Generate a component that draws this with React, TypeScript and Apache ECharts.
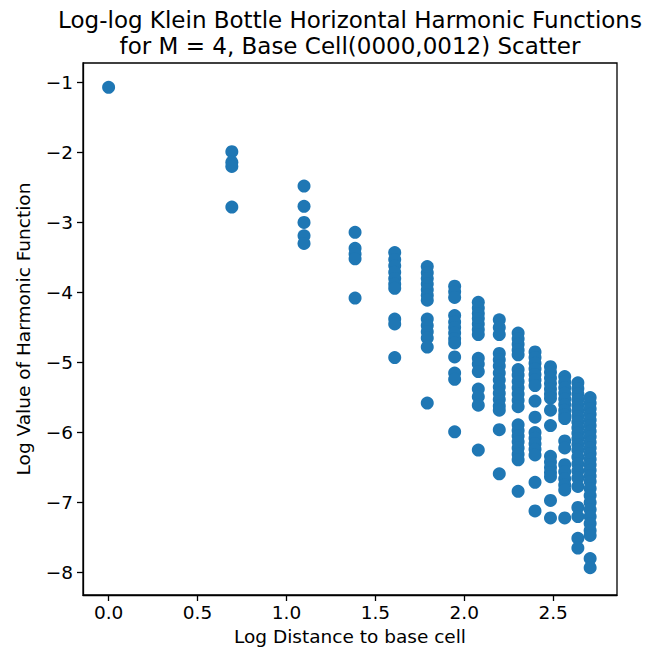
import React, { useEffect, useRef } from "react";
import * as echarts from "echarts";

// Log distances ln(d) for d = 1..15
const logDistances = [0, 0.693, 1.099, 1.386, 1.609, 1.792, 1.946, 2.079, 2.197, 2.303, 2.398, 2.485, 2.565, 2.639, 2.708];

// Log values of the harmonic function, one list per distance
const d1 = [-1.07];
const d2 = [-1.99, -2.14, -2.2, -2.78];
const d3 = [-2.48, -2.77, -3.0, -3.19, -3.3];
const d4 = [-3.14, -3.37, -3.45, -3.52, -4.08];
const d5 = [-3.43, -3.53, -3.62, -3.71, -3.8, -3.88, -3.94, -4.38, -4.45, -4.93];
const d6 = [-3.63, -3.72, -3.8, -3.88, -3.96, -4.04, -4.11, -4.38, -4.47, -4.56, -4.65, -4.78, -5.58];
const d7 = [-3.91, -3.99, -4.07, -4.33, -4.42, -4.5, -4.58, -4.66, -4.72, -4.92, -5.15, -5.24, -5.99];
const d8 = [-4.14, -4.22, -4.3, -4.37, -4.45, -4.53, -4.6, -4.94, -5.02, -5.13, -5.38, -5.49, -5.61, -6.25];
const d9 = [-4.39, -4.5, -4.6, -4.87, -4.96, -5.05, -5.15, -5.25, -5.35, -5.44, -5.53, -5.62, -5.68, -5.96, -6.59];
const d10 = [-4.58, -4.66, -4.74, -4.82, -4.89, -5.1, -5.18, -5.27, -5.36, -5.45, -5.54, -5.63, -5.89, -5.97, -6.05, -6.13, -6.22, -6.31, -6.39, -6.84];
const d11 = [-4.85, -4.93, -5.01, -5.09, -5.17, -5.25, -5.33, -5.55, -5.78, -6.0, -6.08, -6.16, -6.24, -6.32, -6.71, -7.12];
const d12 = [-5.06, -5.14, -5.22, -5.3, -5.38, -5.45, -5.51, -5.68, -5.9, -6.34, -6.42, -6.5, -6.57, -6.63, -6.97, -7.22];
const d13 = [-5.2, -5.28, -5.36, -5.44, -5.52, -5.6, -5.68, -5.75, -5.8, -6.12, -6.22, -6.46, -6.56, -6.66, -6.75, -6.82, -7.22];
const d14 = [-5.29, -5.37, -5.45, -5.53, -5.61, -5.69, -5.77, -5.85, -5.93, -6.01, -6.09, -6.17, -6.25, -6.35, -6.45, -6.55, -6.65, -6.77, -7.07, -7.2, -7.51, -7.65];
const d15 = [-5.5, -5.58, -5.66, -5.74, -5.82, -5.9, -5.98, -6.06, -6.14, -6.22, -6.3, -6.38, -6.46, -6.54, -6.62, -6.7, -6.8, -6.9, -7.0, -7.1, -7.2, -7.3, -7.4, -7.47, -7.8, -7.93];

const logValues = [d1, d2, d3, d4, d5, d6, d7, d8, d9, d10, d11, d12, d13, d14, d15];

const xTickValues = [0, 0.5, 1, 1.5, 2, 2.5];
const yTickValues = [-8, -7, -6, -5, -4, -3, -2, -1];

const titleLines = [
  "Log-log Klein Bottle Horizontal Harmonic Functions",
  "for M = 4, Base Cell(0000,0012) Scatter",
];
const xAxisTitle = "Log Distance to base cell";
const yAxisTitle = "Log Value of Harmonic Function";

const FONT = "DejaVu Sans";

export default function App() {
  const ref = useRef<HTMLDivElement>(null);
  useEffect(() => {
    if (!ref.current) return;
    const chart = echarts.init(ref.current, undefined, { renderer: "svg" });
    const points: number[][] = [];
    logValues.forEach((col, i) => {
      col.forEach((v) => points.push([logDistances[i], v]));
    });
    const lineStyle = { color: "#000", width: 1.3 };
    const tickStyle = { show: true, inside: false, length: 6, lineStyle };
    chart.setOption({
      animation: false,
      backgroundColor: "#fff",
      grid: {
        left: 83,
        right: 40,
        top: 63,
        bottom: 61,
        show: true,
        borderColor: "#000",
        borderWidth: 1.3,
        backgroundColor: "transparent",
      },
      graphic: [
        {
          type: "text",
          x: 350,
          y: 7,
          style: {
            text: titleLines.join("\n"),
            textAlign: "center",
            fontFamily: FONT,
            fontSize: 23,
            lineHeight: 26,
            fill: "#000",
          },
        },
      ],
      xAxis: {
        type: "value",
        min: -0.144,
        max: 2.859,
        name: xAxisTitle,
        nameLocation: "middle",
        nameGap: 30,
        nameTextStyle: { fontFamily: FONT, fontSize: 18.5, color: "#000" },
        axisLine: { show: true, onZero: false, lineStyle },
        axisTick: { ...tickStyle, customValues: xTickValues },
        splitLine: { show: false },
        axisLabel: {
          customValues: xTickValues,
          fontFamily: FONT,
          fontSize: 18.5,
          color: "#000",
          margin: 8,
          formatter: (v: number) => v.toFixed(1),
        },
      },
      yAxis: {
        type: "value",
        min: -8.32,
        max: -0.723,
        name: yAxisTitle,
        nameLocation: "middle",
        nameGap: 50,
        nameTextStyle: { fontFamily: FONT, fontSize: 18.5, color: "#000" },
        axisLine: { show: true, onZero: false, lineStyle },
        axisTick: { ...tickStyle, customValues: yTickValues },
        splitLine: { show: false },
        axisLabel: {
          customValues: yTickValues,
          fontFamily: FONT,
          fontSize: 18.5,
          color: "#000",
          margin: 10,
          formatter: (v: number) => (v < 0 ? "\u2212" + Math.abs(v) : String(v)),
        },
      },
      series: [
        {
          type: "scatter",
          data: points,
          symbol: "circle",
          symbolSize: 13,
          itemStyle: { color: "#1f77b4", opacity: 1 },
        },
      ],
    });
    return () => chart.dispose();
  }, []);
  return (
    <div
      ref={ref}
      style={{ position: "absolute", left: 0, top: 0, width: 657, height: 656 }}
    />
  );
}
